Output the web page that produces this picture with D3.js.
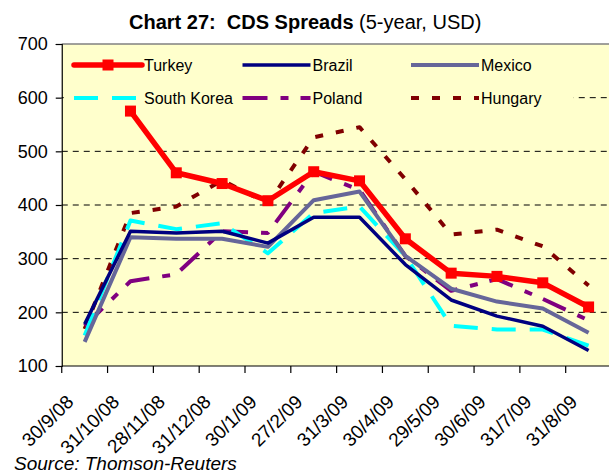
<!DOCTYPE html>
<html>
<head>
<meta charset="utf-8">
<script src="https://cdn.jsdelivr.net/npm/d3@7"></script>
<style>
  body { margin: 0; background: #fff; }
  svg { font-family: "Liberation Sans", Arial, sans-serif; }
</style>
</head>
<body>
<svg id="drawing_region"></svg>
<script>
// data
const categories = ['30/9/08', '31/10/08', '28/11/08', '31/12/08', '30/1/09', '27/2/09',
                    '31/3/09', '30/4/09', '29/5/09', '30/6/09', '31/7/09', '31/8/09'];
const turkey     = [null, 575, 460, 440, 408, 462, 445, 337, 273, 267, 255, 210];
const brazil     = [178, 351, 348, 351, 329, 377, 377, 289, 223, 193, 174, 129];
const mexico     = [145, 340, 337, 337, 322, 409, 425, 305, 244, 220, 207, 162];
const southKorea = [157, 371, 355, 366, 310, 385, 397, 305, 175, 168, 168, 138];
const poland     = [175, 258, 271, 351, 348, 462, 428, 305, 240, 262, 225, 185];
const hungary    = [169, 385, 397, 446, 403, 526, 545, 448, 345, 354, 323, 250];
const yTicks     = [100, 200, 300, 400, 500, 600, 700];

const series = [
    { name: 'Hungary',     values: hungary,    color: '#800000', width: 4,   dash: '8,13' },
    { name: 'Poland',      values: poland,     color: '#800080', width: 4,   dash: '25,13,8,12' },
    { name: 'South Korea', values: southKorea, color: '#00FFFF', width: 4,   dash: '24,14' },
    { name: 'Mexico',      values: mexico,     color: '#666699', width: 4,   dash: null },
    { name: 'Brazil',      values: brazil,     color: '#000080', width: 3.5, dash: null },
    { name: 'Turkey',      values: turkey,     color: '#FF0000', width: 5.5, dash: null, marker: true }
];
const legendOrder = ['Turkey', 'Brazil', 'Mexico', 'South Korea', 'Poland', 'Hungary'];

const width = 609, height = 476;
const plot = { left: 61.75, right: 611.5, top: 44, bottom: 366 };

const svg = d3.select('#drawing_region')
    .attr('width', width)
    .attr('height', height);

const x = d3.scaleBand().domain(categories).range([plot.left, plot.right]);
const y = d3.scaleLinear().domain([100, 700]).range([plot.bottom, plot.top]);
const cx = c => x(c) + x.bandwidth() / 2;

// plot area
svg.append('rect')
    .attr('x', plot.left).attr('y', plot.top)
    .attr('width', plot.right - plot.left).attr('height', plot.bottom - plot.top)
    .attr('fill', '#FFFFCC');
svg.append('line')
    .attr('x1', plot.left).attr('x2', plot.right)
    .attr('y1', plot.top).attr('y2', plot.top)
    .attr('stroke', '#808080').attr('stroke-width', 1.5);

// gridlines
svg.append('g')
    .selectAll('line')
    .data(yTicks.filter(v => v > 100 && v < 700))
    .enter()
    .append('line')
    .attr('x1', plot.left).attr('x2', plot.right)
    .attr('y1', d => y(d)).attr('y2', d => y(d))
    .attr('stroke', '#000').attr('stroke-width', 1)
    .attr('stroke-dasharray', '6,5');

// legend background hides the gridline behind the keys
const legend = svg.append('g');
legend.append('rect')
    .attr('x', plot.left + 2).attr('y', plot.top + 4)
    .attr('width', 510).attr('height', 60)
    .attr('fill', '#FFFFCC');

// y axis
const yAxis = svg.append('g')
    .attr('transform', `translate(${plot.left},0)`)
    .call(d3.axisLeft(y).tickValues(yTicks).tickSize(6).tickPadding(8));
yAxis.selectAll('text').attr('font-size', '18px').attr('fill', '#000')
    .attr('font-family', '"Liberation Sans", Arial, sans-serif');
yAxis.selectAll('line, path').attr('stroke', '#000').attr('stroke-width', 1.2);

// x axis line and ticks at band edges
svg.append('line')
    .attr('x1', plot.left).attr('x2', plot.right)
    .attr('y1', plot.bottom).attr('y2', plot.bottom)
    .attr('stroke', '#000').attr('stroke-width', 1.2);
svg.append('g')
    .selectAll('line')
    .data(categories)
    .enter()
    .append('line')
    .attr('x1', d => x(d)).attr('x2', d => x(d))
    .attr('y1', plot.bottom).attr('y2', plot.bottom + 7)
    .attr('stroke', '#000').attr('stroke-width', 1.2);

svg.append('g')
    .selectAll('text')
    .data(categories)
    .enter()
    .append('text')
    .attr('transform', d => `translate(${cx(d) - 10},${plot.bottom + 37}) rotate(-45)`)
    .attr('text-anchor', 'end')
    .attr('font-size', '19px')
    .text(d => d);

// series lines
const line = d3.line()
    .defined(d => d.v !== null)
    .x(d => cx(d.c))
    .y(d => y(d.v));

series.forEach(s => {
    const pts = categories.map((c, i) => ({ c: c, v: s.values[i] }));
    svg.append('path')
        .datum(pts)
        .attr('d', line)
        .attr('fill', 'none')
        .attr('stroke', s.color)
        .attr('stroke-width', s.width)
        .attr('stroke-dasharray', s.dash)
        .attr('stroke-linejoin', 'round');
    if (s.marker) {
        svg.append('g')
            .selectAll('rect')
            .data(pts.filter(d => d.v !== null))
            .enter()
            .append('rect')
            .attr('x', d => cx(d.c) - 5.5)
            .attr('y', d => y(d.v) - 5.5)
            .attr('width', 11).attr('height', 11)
            .attr('fill', s.color);
    }
});

// legend keys
legendOrder.forEach((name, i) => {
    const s = series.find(d => d.name === name);
    const lx = 74 + (i % 3) * 168.5;
    const ly = i < 3 ? 65 : 98;
    const g = legend.append('g');
    g.append('line')
        .attr('x1', lx).attr('x2', lx + 68)
        .attr('y1', ly).attr('y2', ly)
        .attr('stroke', s.color)
        .attr('stroke-width', s.width)
        .attr('stroke-dasharray', s.dash)
        .attr('stroke-linecap', s.marker ? 'round' : 'butt');
    if (s.marker) {
        g.append('rect')
            .attr('x', lx + 34 - 5.5).attr('y', ly - 5.5)
            .attr('width', 11).attr('height', 11)
            .attr('fill', s.color);
    }
    g.append('text')
        .attr('x', lx + 70).attr('y', ly + 6)
        .attr('font-size', '16px')
        .text(name);
});

// title
const title = svg.append('text')
    .attr('x', 129).attr('y', 29)
    .attr('font-size', '20px')
    .attr('xml:space', 'preserve');
title.append('tspan').attr('font-weight', 'bold').text('Chart 27:  CDS Spreads');
title.append('tspan').text(' (5-year, USD)');

// source
svg.append('text')
    .attr('x', 14).attr('y', 470)
    .attr('font-size', '19px')
    .attr('font-style', 'italic')
    .text('Source: Thomson-Reuters');
</script>
</body>
</html>
